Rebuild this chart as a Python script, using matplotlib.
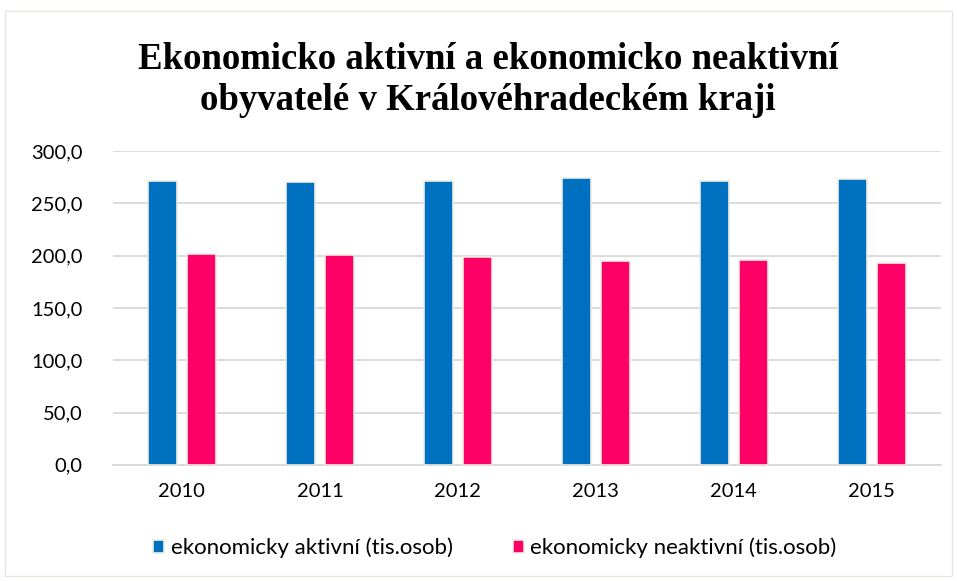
import matplotlib
matplotlib.use("Agg")
import matplotlib.pyplot as plt
import numpy as np
from matplotlib.patches import Rectangle

years = ["2010", "2011", "2012", "2013", "2014", "2015"]
aktivni = [271.7, 270.6, 271.7, 273.9, 271.8, 273.6]
neaktivni = [201.2, 200.6, 198.7, 194.5, 195.8, 192.6]
labels = ["ekonomicky aktivní (tis.osob)", "ekonomicky neaktivní (tis.osob)"]
title = "Ekonomicko aktivní a ekonomicko neaktivní\nobyvatelé v Královéhradeckém kraji"

BLUE = "#0070c0"
PINK = "#ff0066"

fig = plt.figure(figsize=(9.57, 5.81), dpi=100)
fig.patches.append(Rectangle((5 / 957, 5 / 581), 947 / 957, 565 / 581,
                             transform=fig.transFigure, fill=False,
                             edgecolor="#e6e6dc", linewidth=1))

ax = fig.add_axes([0.118, 0.2, 0.865, 0.54])
x = np.arange(len(years))
w = 0.21
ax.bar(x - 0.14, aktivni, w, color=BLUE, edgecolor="#f0ede2", linewidth=1.2,
       label=labels[0], zorder=3)
ax.bar(x + 0.14, neaktivni, w, color=PINK, edgecolor="#f0ede2", linewidth=1.2,
       label=labels[1], zorder=3)

ax.set_xlim(-0.5, len(years) - 0.5)
ax.set_ylim(0, 300)
ax.set_yticks(np.arange(0, 301, 50))
ax.set_yticklabels([f"{v:.1f}".replace(".", ",") for v in np.arange(0, 301, 50)])
ax.set_xticks(x)
ax.set_xticklabels(years)
ax.tick_params(axis="both", length=0, labelsize=14.5, colors="#000000")
ax.tick_params(axis="y", pad=22)
ax.tick_params(axis="x", pad=13)
for lab in ax.get_xticklabels() + ax.get_yticklabels():
    lab.set_family("Lato")

ax.grid(axis="y", color="#d9d9d9", linewidth=1.3, zorder=0)
for s in ["top", "right", "left"]:
    ax.spines[s].set_visible(False)
ax.spines["bottom"].set_color("#d9d9d9")
ax.spines["bottom"].set_linewidth(1.3)

fig.text(0.51, 0.862, title, ha="center", va="center", fontsize=26.5,
         fontweight="bold", family="Liberation Serif", linespacing=1.2)

leg = fig.legend(loc="center", bbox_to_anchor=(0.517, 0.057), ncol=2,
                 frameon=False, prop={"family": "Lato", "size": 16},
                 handlelength=0.5, handleheight=0.5, handletextpad=0.3,
                 columnspacing=2.7)

fig.savefig("out.png", dpi=100)
